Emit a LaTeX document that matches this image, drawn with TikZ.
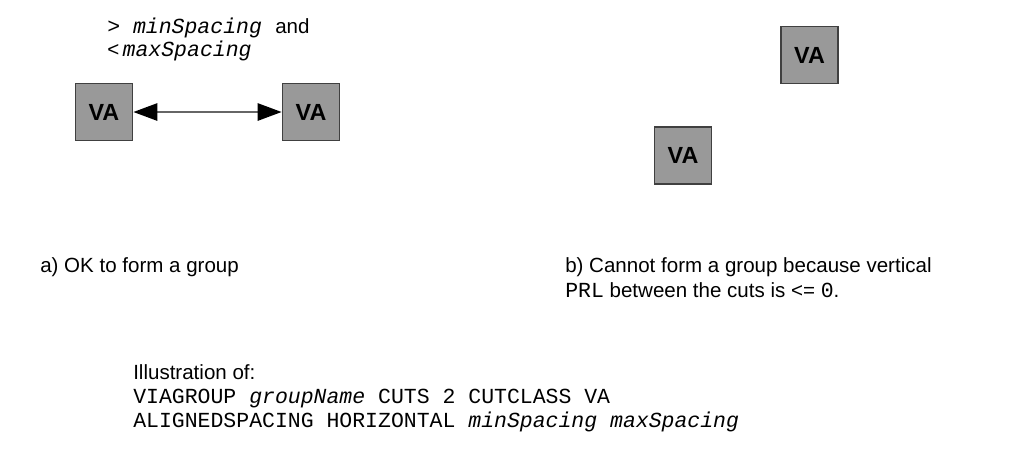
\documentclass[tikz,border=0pt]{standalone}
\usepackage{fontspec}
\usepackage{tikz}
\usetikzlibrary{arrows.meta}
\setmainfont{Liberation Sans}
\setmonofont[Scale=1.046]{Liberation Mono}

\begin{document}
\begin{tikzpicture}%
  [x=0.75pt,y=-0.75pt]
  \tikzstyle{via node}=[rectangle,draw=black!75,fill=gray!80,line width=1.1pt,
    minimum size=43pt,inner sep=0,font=\fontsize{17.5}{20}\selectfont\bfseries]
  \tikzstyle{txt node}=[anchor=base west,inner sep=0,font=\fontsize{15.4}{18}\selectfont]
  \tikzstyle{spacing}=[draw=black!60,line width=1.4pt,
    {Triangle[length=18pt,width=13pt,color=black]}-{Triangle[length=18pt,width=13pt,color=black]}]
  \useasboundingbox (0,0) rectangle (1013,462);
  % a)
  \node(va1)[via node] at (104,112) {VA};
  \node(va2)[via node] at (311,112) {VA};
  \draw[spacing] (va1) -- (va2);
  \node(lim1)[txt node] at (107,33)
    {\texttt{> \itshape minSpacing}\hspace{10pt}and};
  \node(lim2)[txt node] at (107,56)
    {<\,\texttt{\itshape maxSpacing}};
  \node(capA)[txt node] at (40,272) {a) OK to form a group};
  % b)
  \node(va3)[via node] at (809.5,55) {VA};
  \node(va4)[via node] at (683,155.5) {VA};
  \node(capB1)[txt node] at (565,272) {b) Cannot form a group because vertical};
  \node(capB2)[txt node] at (565,297)
    {\texttt{PRL} between the cuts is <= \texttt{0}.};
  % syntax
  \node(ill1)[txt node] at (133,379) {Illustration of:};
  \node(ill2)[txt node] at (133,403)
    {\texttt{VIAGROUP \textit{groupName} CUTS 2 CUTCLASS VA}};
  \node(ill3)[txt node] at (133,427)
    {\texttt{ALIGNEDSPACING HORIZONTAL \textit{minSpacing maxSpacing}}};
\end{tikzpicture}
\end{document}
